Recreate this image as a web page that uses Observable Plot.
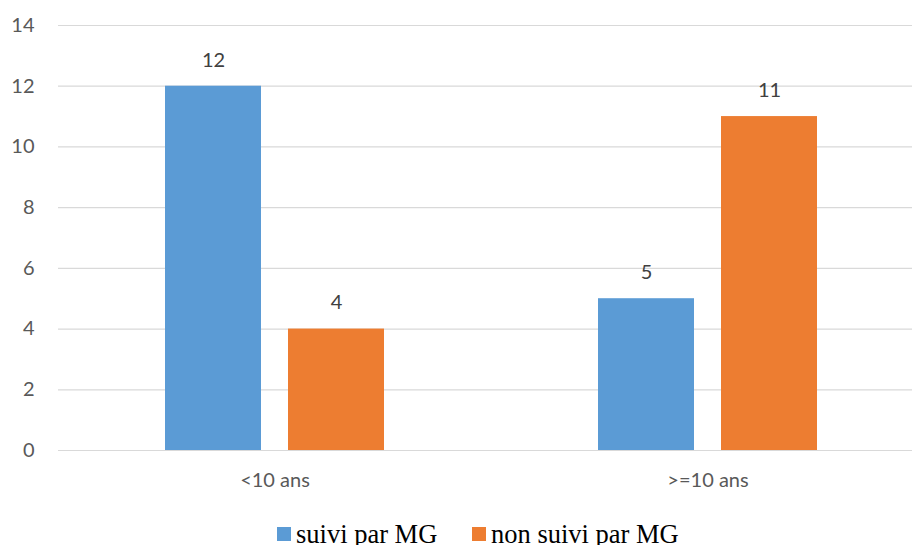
<!DOCTYPE html>
<html>
<head>
<meta charset="utf-8">
<script src="https://cdn.jsdelivr.net/npm/d3@7"></script>
<script src="https://cdn.jsdelivr.net/npm/@observablehq/plot@0.6"></script>
<style>
  html, body { margin: 0; padding: 0; background: #fff; overflow: hidden; }
  #chart svg, #legend svg { display: block; }
</style>
</head>
<body>
<div id="chart"></div>
<div id="legend"></div>
<script>
// Age groups and the two patient series
const categories = ["<10 ans", ">=10 ans"];
const seriesNames = ["suivi par MG", "non suivi par MG"];
const suiviParMG = [12, 5];
const nonSuiviParMG = [4, 11];
const yTicks = [0, 2, 4, 6, 8, 10, 12, 14];
const colors = ["#5B9BD5", "#ED7D31"];

const rows = [];
categories.forEach((c, i) => {
  rows.push({cat: c, series: seriesNames[0], value: suiviParMG[i]});
  rows.push({cat: c, series: seriesNames[1], value: nonSuiviParMG[i]});
});

const font = "Lato, 'Open Sans', sans-serif";

const chart = Plot.plot({
  width: 912,
  height: 500,
  marginTop: 25,
  marginBottom: 50,
  marginLeft: 58,
  marginRight: 0,
  style: {fontFamily: font, fontSize: "20px", color: "#595959", background: "#fff", overflow: "hidden"},
  fx: {domain: categories, range: [57.75, 924.75], padding: 0, label: null, axis: null},
  x: {domain: seriesNames, paddingInner: 27 / 124, paddingOuter: 0.857, axis: null},
  y: {domain: [0, 14], ticks: yTicks, label: null, axis: null},
  color: {domain: seriesNames, range: colors},
  marks: [
    // horizontal gridlines, repeated in both facets so they run edge to edge
    Plot.ruleY(yTicks, {stroke: "#d9d9d9", strokeWidth: 1.2}),
    Plot.axisY(yTicks, {tickSize: 0, tickPadding: 24, label: null, fill: "#595959", fontSize: 20, tickFormat: d => d}),
    Plot.barY(rows, {fx: "cat", x: "series", y: "value", fill: "series"}),
    Plot.text(rows, {fx: "cat", x: "series", y: "value", text: d => d.value, dy: -26, fill: "#404040", fontSize: 20, lineAnchor: "middle"}),
    Plot.text(categories, {fx: d => d, frameAnchor: "bottom", dy: 30, text: d => d, fill: "#595959", fontSize: 20, lineAnchor: "middle"})
  ]
});
document.getElementById("chart").appendChild(chart);

// Legend strip below the chart
const legendX = [277, 472];
const svg = d3.select("#legend").append("svg")
  .attr("width", 912).attr("height", 45)
  .style("overflow", "visible");
seriesNames.forEach((name, i) => {
  svg.append("rect")
    .attr("x", legendX[i]).attr("y", 27)
    .attr("width", 14).attr("height", 14)
    .attr("fill", colors[i]);
  svg.append("text")
    .attr("x", legendX[i] + 19).attr("y", 43)
    .attr("font-family", "'Liberation Serif', 'Times New Roman', serif")
    .attr("font-size", 26.5)
    .attr("fill", "#000")
    .text(name);
});
</script>
</body>
</html>
